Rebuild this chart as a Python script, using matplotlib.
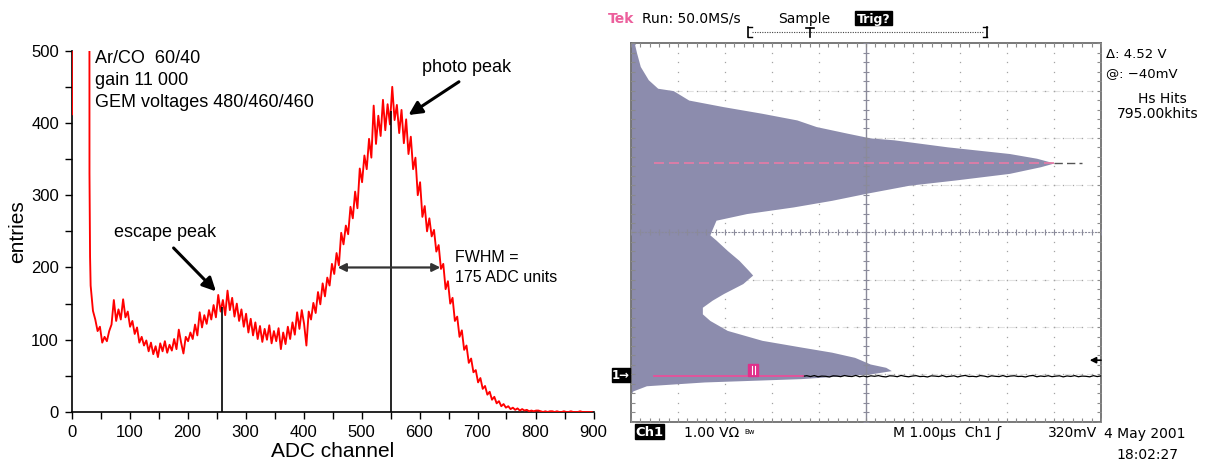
import numpy as np
import matplotlib
matplotlib.use('Agg')
import matplotlib.pyplot as plt
from matplotlib.ticker import MultipleLocator
from matplotlib.patches import Rectangle

plt.rcParams['font.family'] = ['Liberation Sans', 'DejaVu Sans']

# ---------------- Left panel data: ADC spectrum ----------------
spike_channels = [0, 1, 2, 29, 30, 31, 32]
spike_counts = [700, 412, np.nan, np.nan, 3000, 330, 215]
main_start = 33
main_step = 4
main_counts = [
    175, 140, 128, 112, 118, 96, 104, 98, 112, 121,
    155, 126, 142, 128, 156, 131, 139, 118, 126, 108,
    117, 96, 104, 92, 99, 84, 96, 80, 91, 76,
    95, 84, 98, 82, 93, 85, 101, 87, 114, 96,
    81, 104, 98, 110, 101, 121, 106, 138, 117, 134,
    122, 141, 128, 148, 131, 162, 139, 155, 134, 168,
    141, 158, 132, 150, 126, 142, 118, 136, 110, 129,
    106, 124, 101, 119, 97, 115, 100, 120, 95, 112,
    98, 116, 87, 110, 94, 118, 101, 124, 107, 138,
    115, 141, 122, 92, 139, 128, 151, 137, 166, 149,
    178, 160, 186, 175, 205, 191, 220, 203, 248, 232,
    258, 246, 284, 268, 305, 282, 337, 318, 355, 336,
    378, 352, 424, 371, 410, 382, 432, 390, 426, 398,
    450, 404, 425, 386, 418, 372, 405, 357, 381, 336,
    352, 300, 318, 270, 285, 250, 268, 243, 252, 222,
    231, 198, 205, 170, 181, 150, 158, 126, 132, 104,
    113, 86, 92, 68, 74, 55, 58, 41, 47, 32,
    36, 24, 28, 17, 21, 12, 15, 8, 11, 6,
    8, 4, 6, 3, 5, 2, 4, 2, 3, 1,
    2, 1, 2, 2, 1, 0, 1, 0, 1, 1,
    0, 1, 0, 0, 1, 0, 0, 1, 0, 0,
    0, 1, 0, 0, 0, 0, 0,
]
main_channels = list(range(main_start, main_start + main_step * len(main_counts), main_step))
channels = spike_channels + main_channels
counts = spike_counts + main_counts

x_ticks = [0, 100, 200, 300, 400, 500, 600, 700, 800, 900]
y_ticks = [0, 100, 200, 300, 400, 500]

marker_channels = [260, 550]
marker_heights = [145, 417]
fwhm_left, fwhm_right, fwhm_level = 459, 636, 200

# ---------------- Right panel data: scope histogram ----------------
hist_levels = [4.00, 3.97, 3.80, 3.51, 3.23, 3.05, 3.00, 2.80, 2.66, 2.52, 2.38, 2.24,
               2.10, 2.00, 1.96, 1.81, 1.67, 1.57, 1.47, 1.39, 1.25, 1.11, 1.00,
               0.83, 0.68, 0.54, 0.40, 0.26, 0.05, -0.05, -0.16, -0.38, -0.59,
               -0.80, -0.90, -1.08, -1.29, -1.43, -1.58, -1.72, -1.86, -2.07,
               -2.28, -2.42, -2.53, -2.64, -2.78, -2.85, -2.92, -2.99, -3.09,
               -3.16, -3.24, -3.35, -3.42]
hist_widths = [0.10, 0.08, 0.12, 0.20, 0.37, 0.57, 0.90, 1.23, 1.97, 2.79, 3.53, 3.94,
               4.60, 5.09, 5.59, 6.74, 8.05, 8.63, 9.00, 8.71, 8.05, 6.90, 5.92,
               5.01, 4.27, 3.45, 2.46, 1.81, 1.72, 1.68, 1.81, 2.05, 2.30,
               2.50, 2.59, 2.38, 1.97, 1.73, 1.52, 1.52, 1.68, 2.05,
               2.79, 3.61, 4.27, 4.76, 5.09, 5.42, 5.54, 5.09, 3.61,
               1.56, 0.33, 0.04, 0.00]
peak_level = 1.47
baseline_level = -3.04
trigger_level = -2.70
trace_offsets = [0.000, 0.012, -0.006, 0.015, -0.010, 0.004, 0.000, -0.014, 0.010, 0.005,
                 -0.008, 0.016, 0.000, -0.005, 0.018, -0.010, 0.006, -0.012, 0.010, 0.000,
                 0.014, -0.004, -0.013, 0.010, 0.006, -0.009, 0.017, 0.000, -0.010, 0.005,
                 0.013, -0.006, 0.000, -0.014, 0.009, 0.004, -0.005, 0.015, -0.010, 0.000,
                 0.010, -0.013, 0.006, 0.018, -0.005, 0.000, -0.010, 0.014, 0.005, -0.013,
                 0.010, 0.000, -0.006, 0.015, -0.009, 0.005, 0.011, -0.004, 0.000, -0.014,
                 0.009, 0.017, -0.010, 0.006, -0.004, 0.012, -0.008, 0.003, 0.010, -0.012,
                 0.007, -0.003, 0.014, -0.009, 0.004, 0.000, -0.011, 0.013, -0.006, 0.008]

W, H = 1208, 465
fig = plt.figure(figsize=(W / 100, H / 100), dpi=100)


def fx(px):
    return px / W


def fy(py):
    return 1 - py / H


# ---------------- Left panel ----------------
ax = fig.add_axes([fx(71.5), fy(412), (593.5 - 71.5) / W, (412 - 50.7) / H])
ax.plot(channels, counts, color='#ff0000', lw=1.35, zorder=3)
ax.vlines(marker_channels, 0, marker_heights, color='black', lw=1.2, zorder=4)
ax.set_xlim(0, 900)
ax.set_ylim(0, 500)
for s in ['top', 'right']:
    ax.spines[s].set_visible(False)
for s in ['left', 'bottom']:
    ax.spines[s].set_linewidth(1.2)
ax.set_xticks(x_ticks)
ax.set_yticks(y_ticks)
ax.xaxis.set_minor_locator(MultipleLocator(50))
ax.yaxis.set_minor_locator(MultipleLocator(50))
ax.tick_params(which='both', direction='out', length=5, width=1, labelsize=12, pad=4)
ax.set_xlabel('ADC channel', fontsize=15, labelpad=2)
ax.set_ylabel('entries', fontsize=15, labelpad=3)

ax.text(40, 483, 'Ar/CO  60/40', fontsize=13)
ax.text(40, 452, 'gain 11 000', fontsize=13)
ax.text(40, 422, 'GEM voltages 480/460/460', fontsize=13)
ax.text(73, 242, 'escape peak', fontsize=13)
ax.annotate('', xy=(249, 167), xytext=(176, 227),
            arrowprops=dict(arrowstyle='-|>', color='black', lw=2.2, mutation_scale=20,
                            shrinkA=0, shrinkB=0))
ax.text(605, 470, 'photo peak', fontsize=13)
ax.annotate('', xy=(581, 411), xytext=(668, 457),
            arrowprops=dict(arrowstyle='-|>', color='black', lw=2.2, mutation_scale=20,
                            shrinkA=0, shrinkB=0))
ax.annotate('', xy=(fwhm_left, fwhm_level), xytext=(fwhm_right, fwhm_level),
            arrowprops=dict(arrowstyle='<|-|>', color='#333333', lw=1.6, mutation_scale=12,
                            shrinkA=0, shrinkB=0), zorder=5)
ax.text(661, 207, 'FWHM =', fontsize=11.5)
ax.text(661, 180, '175 ADC units', fontsize=11.5)

# ---------------- Right panel: oscilloscope ----------------
sc = fig.add_axes([fx(630.9), fy(421.7), (1101 - 630.9) / W, (421.7 - 43.3) / H])
sc.set_xlim(0, 10)
sc.set_ylim(-4, 4)
sc.set_xticks([])
sc.set_yticks([])
for s in sc.spines.values():
    s.set_color('#6e6e6e')
    s.set_linewidth(1.3)

grid_col = '#a4a4a4'
fine = np.arange(0, 10.001, 0.2)
fine_y = np.arange(-4, 4.001, 0.2)
for gx in [1, 2, 3, 4, 6, 7, 8, 9]:
    sc.plot([gx] * len(fine_y), fine_y, ls='none', marker='s', ms=0.9, mew=0, color=grid_col, zorder=1)
for gy in [-3, -2, -1, 1, 2, 3]:
    sc.plot([0, 10], [gy, gy], color='#e2e2e2', lw=0.8, dashes=(6, 4), zorder=0.9)
    sc.plot(fine, [gy] * len(fine), ls='none', marker='s', ms=0.9, mew=0, color=grid_col, zorder=1)

sc.fill_betweenx(hist_levels, 0, hist_widths, color='#8c8cad', lw=0, zorder=2)

# center crosshair with ticks
sc.plot([5, 5], [-4, 4], color='#8a8a9a', lw=1.0, zorder=3)
sc.plot([5] * len(fine_y), fine_y, ls='none', marker='_', ms=5, mew=0.8, color='#8a8a9a', zorder=3)
sc.plot([0, 10], [0, 0], color='#8a8a9a', lw=0.8, dashes=(2, 1), zorder=3)
sc.plot(fine, [0] * len(fine), ls='none', marker='|', ms=5, mew=0.8, color='#8a8a9a', zorder=3)
# edge ticks
sc.plot(fine, [4] * len(fine), ls='none', marker='|', ms=6, mew=0.8, color='#8a8a8a', zorder=3)
sc.plot(fine, [-4] * len(fine), ls='none', marker='|', ms=6, mew=0.8, color='#8a8a8a', zorder=3)
sc.plot([0] * len(fine_y), fine_y, ls='none', marker='_', ms=6, mew=0.8, color='#8a8a8a', zorder=3)
sc.plot([10] * len(fine_y), fine_y, ls='none', marker='_', ms=6, mew=0.8, color='#8a8a8a', zorder=3)

# cursors and trace
sc.plot([0.49, 9.0], [peak_level, peak_level], color='#e87aa6', lw=1.2, dashes=(6, 3), zorder=4)
sc.plot([9.0, 9.6], [peak_level, peak_level], color='#555555', lw=1.0, dashes=(6, 3), zorder=4)
trace_x = np.linspace(3.66, 10, len(trace_offsets))
sc.plot(trace_x, baseline_level + np.array(trace_offsets), color='black', lw=0.9, zorder=4)
sc.plot([0.49, 3.66], [baseline_level, baseline_level], color='#e8509a', lw=1.3, zorder=4)
sc.add_patch(Rectangle((2.5, baseline_level), 0.21, 0.26, color='#e0308a', zorder=5))
sc.plot([2.57, 2.57], [baseline_level + 0.04, baseline_level + 0.22], color='white', lw=0.8, zorder=6)
sc.plot([2.64, 2.64], [baseline_level + 0.04, baseline_level + 0.22], color='white', lw=0.8, zorder=6)
sc.annotate('', xy=(9.76, trigger_level), xytext=(10.0, trigger_level),
            arrowprops=dict(arrowstyle='-|>', color='black', lw=1.2, mutation_scale=9,
                            shrinkA=0, shrinkB=0), zorder=6)

# ---------------- Overlay in pixel coordinates ----------------
ov = fig.add_axes([0, 0, 1, 1], facecolor='none')
ov.set_xlim(0, W)
ov.set_ylim(H, 0)
ov.axis('off')
ov.set_zorder(10)
sf = ['DejaVu Sans']
ov.text(608, 22.7, 'Tek', color='#ec5f9c', fontsize=10, family=sf, weight='bold')
ov.text(642, 22.7, 'Run: 50.0MS/s', fontsize=10, family=sf)
ov.text(778, 22.7, 'Sample', fontsize=10, family=sf)
ov.add_patch(Rectangle((855, 11.5), 37, 13.5, color='black'))
ov.text(873.5, 22.5, 'Trig?', color='white', fontsize=9, family=sf, weight='bold', ha='center')
# record bracket
ov.plot([748, 748], [27, 37.5], color='black', lw=1.2)
ov.plot([748, 752], [27, 27], color='black', lw=1.0)
ov.plot([748, 752], [37.5, 37.5], color='black', lw=1.0)
ov.plot([987, 987], [27, 37.5], color='black', lw=1.2)
ov.plot([983, 987], [27, 27], color='black', lw=1.0)
ov.plot([983, 987], [37.5, 37.5], color='black', lw=1.0)
ov.plot([752, 983], [32, 32], color='#444444', lw=0.8, dashes=(1, 1.2))
ov.plot([806, 814], [28, 28], color='black', lw=1.2)
ov.plot([810, 810], [28, 37], color='black', lw=1.2)

ov.text(1106, 58.3, '\u0394: 4.52 V', fontsize=9.5, family=sf)
ov.text(1106, 76.7, '@: \u221240mV', fontsize=9.5, family=sf)
ov.text(1162, 103, 'Hs Hits', fontsize=10, family=sf, ha='center')
ov.text(1158, 118, '795.00khits', fontsize=10, family=sf, ha='center')

ov.add_patch(Rectangle((635, 423.5), 29, 15, color='black'))
ov.text(649.5, 435.5, 'Ch1', color='white', fontsize=9.5, family=sf, weight='bold', ha='center')
ov.text(684, 437, '1.00 V\u03a9', fontsize=10, family=sf)
ov.text(744, 434, 'Bw', fontsize=5, family=sf)
ov.text(893, 437, 'M 1.00\u00b5s  Ch1 \u0283', fontsize=10, family=sf)
ov.text(1048, 437, '320mV', fontsize=10, family=sf)
ov.text(1104, 438, '4 May 2001', fontsize=10, family=sf)
ov.text(1116, 459, '18:02:27', fontsize=10, family=sf)

ov.add_patch(Rectangle((612, 368), 18, 14, color='black'))
ov.text(621, 379, '1\u2192', color='white', fontsize=8.5, family=sf, weight='bold', ha='center')

fig.savefig('out.png', dpi=100)
